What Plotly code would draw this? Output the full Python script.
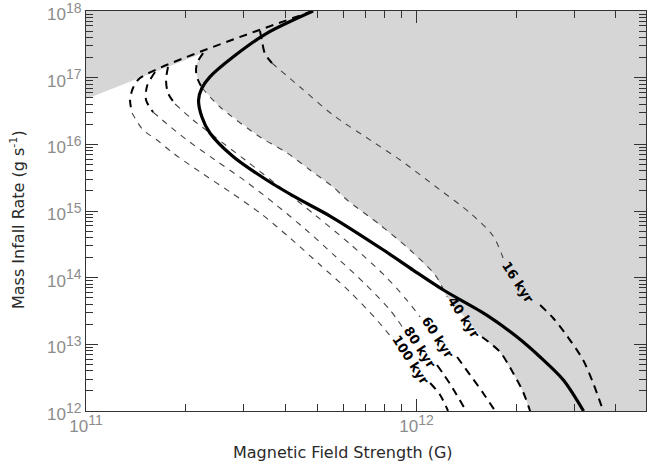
import numpy as np
import plotly.graph_objects as go

# ---------------- data ----------------
# upper-left limiting line (Mdot vs B)
env_B = [1.0e11, 4.86e11]
env_M = [4.79e16, 1.0e18]

# solid curve
solid_B = [4.86e11, 3.52e11, 2.79e11, 2.37e11, 2.24e11, 2.19e11, 2.24e11, 2.37e11,
           2.79e11, 3.52e11, 4.34e11, 5.47e11, 7.94e11, 9.76e11, 1.205e12, 1.63e12,
           2.01e12, 2.36e12, 2.78e12, 3.20e12]
solid_M = [1.0e18, 4.63e17, 2.06e17, 1.03e17, 6.93e16, 4.62e16, 2.60e16, 1.48e16,
           6.52e15, 2.92e15, 1.57e15, 8.41e14, 2.60e14, 1.30e14, 6.53e13, 2.75e13,
           1.30e13, 6.52e12, 2.92e12, 1.0e12]

# age curves (dashed)
kyr100_B = [4.86e11, 1.457e11, 1.387e11, 1.359e11, 1.378e11, 1.488e11, 1.640e11, 1.833e11,
            2.213e11, 2.728e11, 3.36e11, 4.14e11, 5.11e11, 6.29e11, 7.49e11, 8.43e11,
            1.099e12, 1.178e12, 1.245e12]
kyr100_M = [1.0e18, 9.89e16, 7.00e16, 4.62e16, 2.95e16, 1.64e16, 1.16e16, 7.41e15,
            3.85e15, 1.93e15, 9.33e14, 3.94e14, 1.55e14, 6.10e13, 2.48e13, 1.245e13,
            2.63e12, 1.74e12, 1.0e12]

kyr80_B = [1.617e11, 1.530e11, 1.519e11, 1.595e11, 1.758e11, 2.02e11, 2.457e11, 3.03e11,
           3.73e11, 4.60e11, 5.67e11, 6.99e11, 8.31e11, 9.10e11, 1.153e12, 1.263e12, 1.412e12]
kyr80_M = [1.216e17, 7.50e16, 4.62e16, 3.05e16, 2.02e16, 1.16e16, 5.82e15, 2.82e15,
           1.274e15, 5.37e14, 2.11e14, 8.04e13, 3.27e13, 1.758e13, 4.90e12, 2.54e12, 1.0e12]

kyr60_B = [1.770e11, 1.746e11, 1.770e11, 1.859e11, 2.108e11, 2.457e11, 3.03e11, 3.86e11,
           4.93e11, 6.29e11, 8.03e11, 9.23e11, 1.025e12, 1.326e12, 1.452e12, 1.589e12, 1.728e12]
kyr60_M = [1.445e17, 9.23e16, 5.89e16, 4.03e16, 2.32e16, 1.288e16, 5.82e15, 2.29e15,
           8.71e14, 3.20e14, 1.06e14, 4.95e13, 2.57e13, 6.46e12, 3.47e12, 1.86e12, 1.0e12]

kyr40_B = [2.26e11, 2.167e11, 2.152e11, 2.182e11, 2.244e11, 2.544e11, 3.36e11, 4.06e11,
           4.76e11, 5.59e11, 6.16e11, 7.76e11, 9.56e11, 1.138e12, 1.237e12, 1.578e12,
           1.789e12, 1.959e12, 2.10e12, 2.205e12]
kyr40_M = [2.34e17, 1.66e17, 1.216e17, 9.23e16, 7.00e16, 3.63e16, 1.288e16, 7.41e15,
           4.12e15, 2.29e15, 1.462e15, 6.17e14, 2.60e14, 1.096e14, 5.13e13, 1.288e13,
           7.67e12, 3.72e12, 1.928e12, 1.0e12]

kyr16_B = [3.36e11, 3.41e11, 3.48e11, 3.65e11, 4.44e11, 5.59e11, 7.39e11, 8.92e11,
           1.178e12, 1.452e12, 1.704e12, 1.827e12, 2.364e12, 2.588e12, 2.853e12, 3.19e12,
           3.42e12, 3.67e12]
kyr16_M = [5.01e17, 3.43e17, 2.26e17, 1.66e17, 7.24e16, 2.75e16, 1.084e16, 5.82e15,
           2.07e15, 9.33e14, 4.22e14, 1.972e14, 3.89e13, 2.48e13, 1.334e13, 5.82e12,
           2.63e12, 1.0e12]

label_text = ["100 kyr", "80 kyr", "60 kyr", "40 kyr", "16 kyr"]
label_B = [9.63e11, 1.025e12, 1.161e12, 1.392e12, 2.03e12]
label_M = [5.82e12, 9.12e12, 1.288e13, 2.57e13, 8.61e13]

x_tick_vals = [1e11, 1e12]
x_tick_exp = [11, 12]
y_tick_vals = [1e12, 1e13, 1e14, 1e15, 1e16, 1e17, 1e18]
y_tick_exp = [12, 13, 14, 15, 16, 17, 18]


def power_label(e):
    return "10<sup><span style='font-size:14px'>%d</span></sup>" % e


# ---------------- figure ----------------
fig = go.Figure()

# shaded (forbidden) region
poly_B = [env_B[0]] + kyr40_B + [1e13, 1e13, env_B[0]]
poly_M = [env_M[0]] + kyr40_M + [1e12, 1e19, 1e19]
fig.add_trace(go.Scatter(x=poly_B, y=poly_M, fill="toself", fillcolor="#d6d6d6",
                         mode="lines", line=dict(width=0, color="#d6d6d6"),
                         hoverinfo="skip"))

THICK = dict(color="black", width=2, dash="8px,6px", shape="spline", smoothing=0.8)
THIN = dict(color="#444444", width=1.1, dash="6px,6px", shape="spline", smoothing=0.8)

curves = [
    (kyr100_B, kyr100_M, 4, 15, 16),
    (kyr80_B, kyr80_M, 3, 13, 14),
    (kyr60_B, kyr60_M, 3, 12, 13),
    (kyr40_B, kyr40_M, 4, 14, 15),
    (kyr16_B, kyr16_M, 3, 11, 12),
]
for B, M, i_thick, i_lab0, i_lab1 in curves:
    fig.add_trace(go.Scatter(x=B[:i_thick + 1], y=M[:i_thick + 1], mode="lines", line=THICK))
    fig.add_trace(go.Scatter(x=B[i_thick:i_lab0 + 1], y=M[i_thick:i_lab0 + 1], mode="lines", line=THIN))
    fig.add_trace(go.Scatter(x=B[i_lab1:], y=M[i_lab1:], mode="lines", line=THICK))

fig.add_trace(go.Scatter(x=solid_B, y=solid_M, mode="lines",
                         line=dict(color="black", width=3.2, shape="spline", smoothing=0.8)))

for t, b, m in zip(label_text, label_B, label_M):
    fig.add_annotation(x=np.log10(b), y=np.log10(m), xref="x", yref="y", text="<b>%s</b>" % t,
                       showarrow=False, textangle=57,
                       font=dict(family="DejaVu Sans", size=13, color="black"))

axis_common = dict(type="log", showline=True, linecolor="#333333", linewidth=1, mirror="ticks",
                   ticks="inside", ticklen=12, tickcolor="#333333", tickwidth=1,
                   showgrid=False, zeroline=False, tickmode="array", automargin=False,
                   ticklabeloverflow="allow",
                   tickfont=dict(family="Liberation Sans", size=17, color="#8c8c8c"),
                   minor=dict(ticks="inside", ticklen=7, tickcolor="#333333", tickwidth=1,
                              showgrid=False))

minor_x = [m * 10.0 ** e for e in range(11, 13) for m in range(2, 10)]
minor_y = [m * 10.0 ** e for e in range(12, 18) for m in range(2, 10)]

fig.update_xaxes(**axis_common, range=[10.9999, 12.694], tickvals=x_tick_vals,
                 ticktext=[power_label(e) for e in x_tick_exp])
fig.update_xaxes(minor_tickvals=minor_x, minor_tickmode="array")
fig.update_yaxes(**axis_common, range=[11.9999, 18.0001], tickvals=y_tick_vals,
                 ticktext=[power_label(e) for e in y_tick_exp], ticklabelshift=3)
fig.update_yaxes(minor_tickvals=minor_y, minor_tickmode="array")

fig.add_annotation(text="Magnetic Field Strength (G)", xref="paper", yref="paper",
                   x=0.459, y=-0.1025, xanchor="center", yanchor="middle", showarrow=False,
                   font=dict(family="DejaVu Sans", size=16, color="#2a2a2a"))
fig.add_annotation(text="Mass Infall Rate (g s<sup>-1</sup>)", xref="paper", yref="paper",
                   x=-0.1232, y=0.4775, xanchor="center", yanchor="middle", showarrow=False,
                   textangle=-90, font=dict(family="DejaVu Sans", size=16, color="#2a2a2a"))

fig.update_layout(template="none", width=647, height=465,
                  margin=dict(l=86, r=1, t=11, b=54, autoexpand=False),
                  plot_bgcolor="white", paper_bgcolor="white", showlegend=False)

# remove the default 8 px page margin so the figure fills the 647x465 window exactly
fig.write_html("out.html", config={"displayModeBar": False},
               post_script="document.body.style.margin='0';document.body.style.overflow='hidden';")
